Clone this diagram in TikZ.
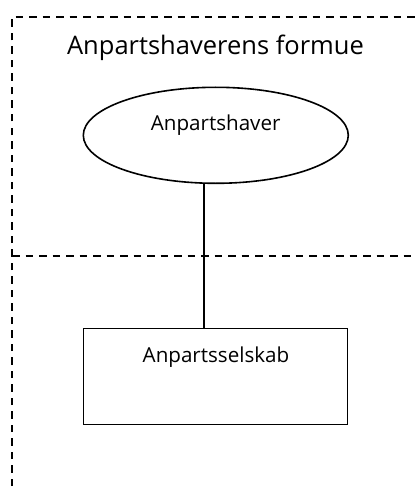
\documentclass[tikz,border=0pt]{standalone}
\usepackage{fontspec}
\setmainfont{Open Sans}
\usetikzlibrary{shapes.geometric}
\begin{document}
\begin{tikzpicture}[x=1pt,y=-1pt,
  frame/.style={line width=1.6pt,dash pattern=on 7.5pt off 6pt},
  shapeline/.style={draw,line width=1.6pt,inner sep=0pt},
  title/.style={font=\fontsize{25.5}{30}\selectfont,anchor=base,inner sep=0pt},
  label/.style={font=\fontsize{20.6}{24}\selectfont,anchor=base,inner sep=0pt}]
  \useasboundingbox (0,0) rectangle (416,492);
  % outer frame and the divider between the two zones
  \coordinate (tl) at (12,17);
  \coordinate (tr) at (416,17);
  \coordinate (bl) at (12,486);
  \coordinate (ml) at (12,256);
  \coordinate (mr) at (416,256);
  \draw[frame] (bl) -- (tl) -- (tr);
  \draw[frame] (ml) -- (mr);
  \node[title] (zone) at (215.5,54.3) {Anpartshaverens formue};
  % owner and company
  \node[shapeline,ellipse,minimum width=265pt,minimum height=96pt] (owner) at (215.8,135.3) {};
  \node[label] (ownertext) at (215.7,130) {Anpartshaver};
  \node[shapeline,rectangle,minimum width=264pt,minimum height=96pt] (company) at (215.3,376.3) {};
  \node[label] (companytext) at (216,362.3) {Anpartsselskab};
  % ownership link
  \coordinate (link) at (204,0);
  \draw[line width=1.6pt] (link |- owner.south) -- (link |- company.north);
\end{tikzpicture}
\end{document}
